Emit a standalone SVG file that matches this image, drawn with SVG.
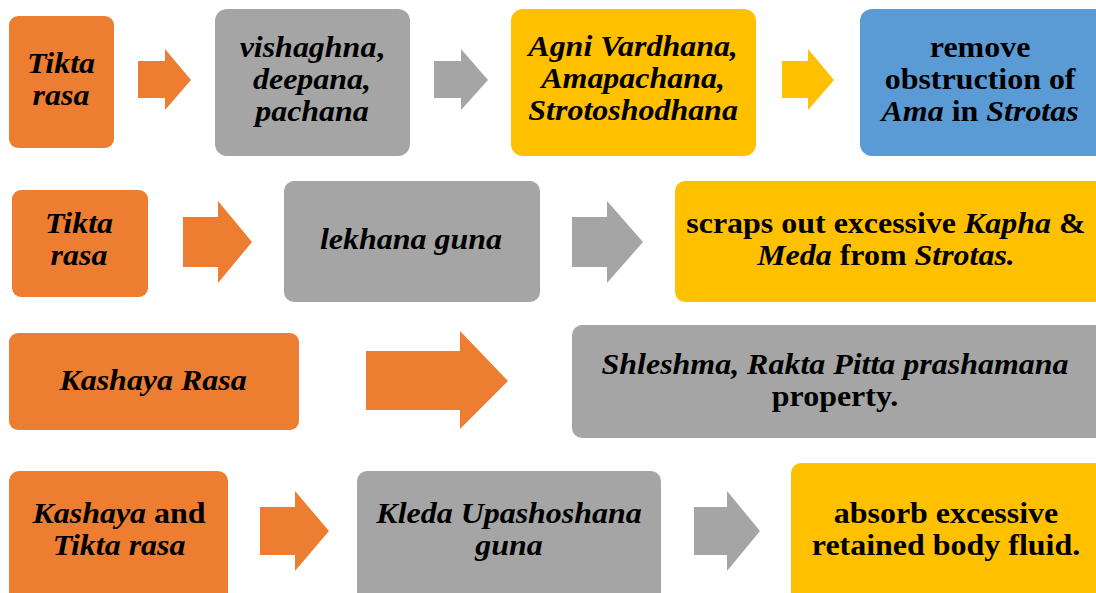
<svg xmlns="http://www.w3.org/2000/svg" width="1096" height="593" viewBox="0 0 1096 593">
<style>
.o{fill:#ED7D31}.g{fill:#A5A5A5}.y{fill:#FFC000}.b{fill:#5B9BD5}
text{font-family:"Liberation Serif","Times New Roman",serif;font-weight:bold;font-size:28.8px;fill:#000;text-anchor:middle;transform-box:fill-box;transform-origin:center;transform:scaleX(1.11)}
.i{font-style:italic}
</style>
<rect width="1096" height="593" fill="#fff"/>
<g id="connectors">
<polygon class="o" points="138,61 165,61 165,49 191,80 165,110 165,98 138,98"/>
<polygon class="g" points="434,61 461,61 461,49 488,80 461,110 461,98 434,98"/>
<polygon class="y" points="782,61 808,61 808,49 834,80 808,110 808,98 782,98"/>
<polygon class="o" points="183,217 218,217 218,201 252,242 218,283 218,267 183,267"/>
<polygon class="g" points="572,217 607,217 607,201 643,242 607,283 607,267 572,267"/>
<polygon class="o" points="366,351 460,351 460,331 508,381 460,429 460,410 366,410"/>
<polygon class="o" points="260,507 295,507 295,491 329,531 295,571 295,555 260,555"/>
<polygon class="g" points="694,507 727,507 727,491 760,531 727,571 727,555 694,555"/>
</g>
<g id="n1"><rect class="o" x="9" y="16" width="105" height="132" rx="9"/>
<text class="i"><tspan x="61" y="73">Tikta</tspan><tspan x="61" y="105">rasa</tspan></text></g>
<g id="n2"><rect class="g" x="215" y="9" width="195" height="147" rx="12"/>
<text><tspan x="312" y="57"><tspan class="i">vishaghna</tspan>,</tspan><tspan x="312" y="89" class="i">deepana,</tspan><tspan x="312" y="121" class="i">pachana</tspan></text></g>
<g id="n3"><rect class="y" x="511" y="9" width="245" height="147" rx="12"/>
<text class="i"><tspan x="633" y="56">Agni Vardhana,</tspan><tspan x="633" y="88">Amapachana,</tspan><tspan x="633" y="120">Strotoshodhana</tspan></text></g>
<g id="n4"><rect class="b" x="860" y="9" width="248" height="147" rx="12"/>
<text><tspan x="980" y="57">remove</tspan><tspan x="980" y="89">obstruction of</tspan><tspan x="980" y="121"><tspan class="i">Ama</tspan> in <tspan class="i">Strotas</tspan></tspan></text></g>
<g id="n5"><rect class="o" x="12" y="190" width="136" height="107" rx="9"/>
<text class="i"><tspan x="79" y="233">Tikta</tspan><tspan x="79" y="265">rasa</tspan></text></g>
<g id="n6"><rect class="g" x="284" y="181" width="256" height="121" rx="10"/>
<text x="411" y="249" class="i">lekhana guna</text></g>
<g id="n7"><rect class="y" x="675" y="181" width="433" height="121" rx="10"/>
<text><tspan x="886" y="233">scraps out excessive <tspan class="i">Kapha</tspan> &amp;</tspan><tspan x="886" y="265"><tspan class="i">Meda</tspan> from <tspan class="i">Strotas.</tspan></tspan></text></g>
<g id="n8"><rect class="o" x="9" y="333" width="290" height="97" rx="9"/>
<text x="153" y="390" class="i">Kashaya Rasa</text></g>
<g id="n9"><rect class="g" x="572" y="325" width="536" height="113" rx="10"/>
<text><tspan x="835" y="374" class="i">Shleshma, Rakta Pitta prashamana</tspan><tspan x="835" y="406">property.</tspan></text></g>
<g id="n10"><rect class="o" x="9" y="471" width="219" height="132" rx="10"/>
<text><tspan x="119" y="523"><tspan class="i">Kashaya</tspan> and</tspan><tspan x="119" y="555" class="i">Tikta rasa</tspan></text></g>
<g id="n11"><rect class="g" x="357" y="471" width="304" height="132" rx="10"/>
<text class="i"><tspan x="509" y="523">Kleda Upashoshana</tspan><tspan x="509" y="555">guna</tspan></text></g>
<g id="n12"><rect class="y" x="791" y="463" width="317" height="140" rx="10"/>
<text><tspan x="946" y="523">absorb excessive</tspan><tspan x="946" y="555">retained body fluid.</tspan></text></g>
</svg>
